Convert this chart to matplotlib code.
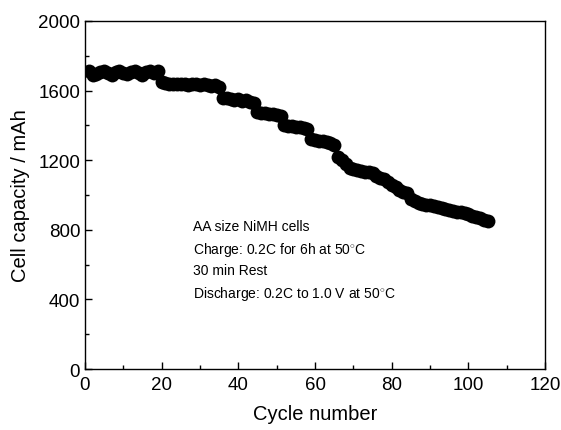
import numpy as np
import matplotlib.pyplot as plt
from matplotlib.ticker import MultipleLocator

plt.rcParams['font.family'] = ['Liberation Sans', 'DejaVu Sans']
plt.rcParams['mathtext.fontset'] = 'custom'
plt.rcParams['mathtext.rm'] = 'Liberation Sans'

# capacity per cycle (cycles 1..105)
cycles = np.arange(1, 106)
capacity = [
    1710, 1690, 1695, 1705, 1710, 1700, 1690, 1705, 1710, 1700,
    1695, 1705, 1710, 1700, 1690, 1705, 1710, 1700, 1710,
    1650, 1645, 1640, 1640, 1635, 1640, 1635, 1630, 1640, 1635,
    1630, 1635, 1630, 1625, 1630, 1620,
    1560, 1555, 1550, 1545, 1550, 1540, 1545, 1535, 1530,
    1475, 1470, 1470, 1465, 1465, 1460, 1455,
    1400, 1395, 1395, 1390, 1390, 1385, 1380,
    1320, 1315, 1310, 1310, 1305, 1300, 1290,
    1220, 1200, 1180,
    1155, 1150, 1145, 1140, 1135, 1130, 1125,
    1110, 1100, 1090, 1075, 1060, 1045, 1030, 1020, 1010,
    975, 965, 955, 950, 945, 940, 935, 930, 925, 920,
    915, 910, 905, 900, 895, 888, 880, 872, 865, 858, 852,
]

note_lines = [
    "AA size NiMH cells",
    r"Charge: 0.2C for 6h at 50$^{\circ}$C",
    "30 min Rest",
    r"Discharge: 0.2C to 1.0 V at 50$^{\circ}$C",
]

fig = plt.figure(figsize=(5.61, 4.31), dpi=100)
ax = fig.add_axes([0.1515, 0.1415, 0.82, 0.8075])

ax.plot(cycles, capacity, 'o', color='black', markersize=10, markeredgewidth=0)

ax.set_xlim(0, 120)
ax.set_ylim(0, 2000)
ax.xaxis.set_major_locator(MultipleLocator(20))
ax.xaxis.set_minor_locator(MultipleLocator(10))
ax.yaxis.set_major_locator(MultipleLocator(400))
ax.yaxis.set_minor_locator(MultipleLocator(200))
ax.tick_params(which='both', direction='in', labelsize=13.5, width=1)
ax.tick_params(axis='x', pad=5)
ax.tick_params(which='major', length=5)
ax.tick_params(which='minor', length=3)
for s in ax.spines.values():
    s.set_linewidth(1)

ax.set_xlabel("Cycle number", fontsize=14.5, labelpad=8)
ax.set_ylabel("Cell capacity / mAh", fontsize=14.5, labelpad=6)

ax.text(28.2, 860, "\n".join(note_lines), fontsize=10, va='top', ha='left',
        linespacing=1.5)

fig.savefig("out.png", dpi=100)
